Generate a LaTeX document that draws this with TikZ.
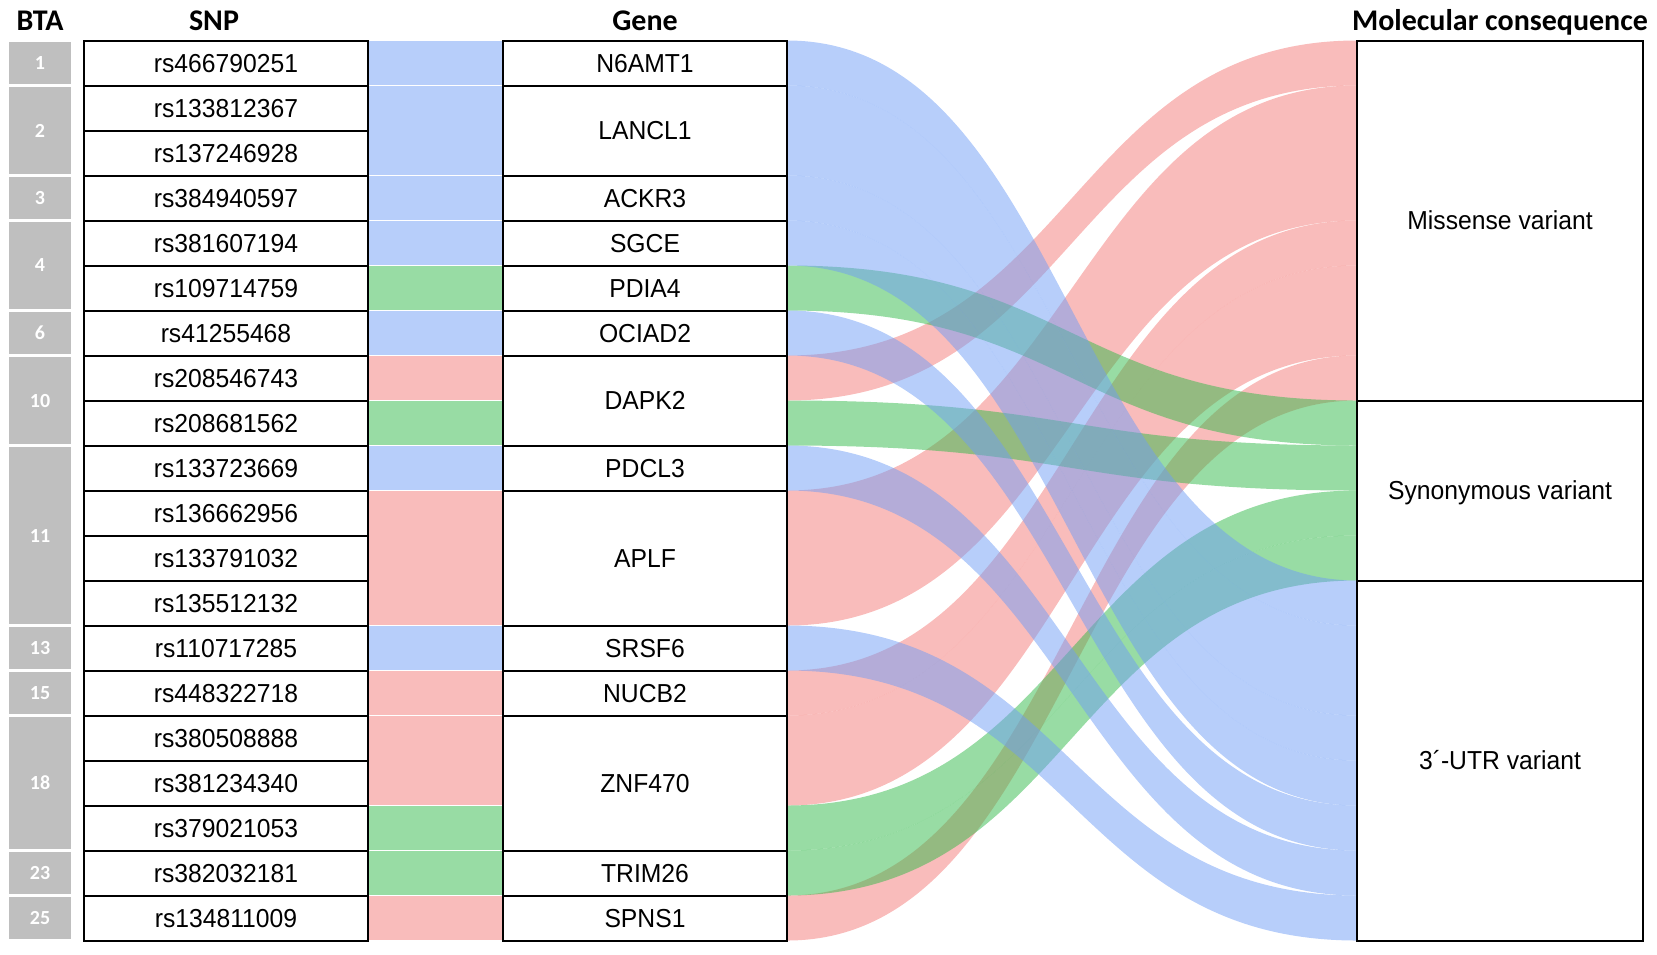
\documentclass[tikz,border=0pt]{standalone}
\usepackage{fontspec}
\setmainfont{Liberation Sans}[FakeStretch=0.95]
\newfontfamily\headfont{Carlito}
\usetikzlibrary{positioning, calc}
\pgfdeclarelayer{background}
\pgfsetlayers{background,main}

\definecolor{misred}{RGB}{243,121,119}
\definecolor{synsgreen}{RGB}{49,185,73}
\definecolor{utrblue}{RGB}{111,157,245}
\definecolor{btagray}{RGB}{191,191,191}

\tikzset{
    snp_box/.style={rectangle, draw=black, line width=1pt, minimum width=142pt, minimum height=22.5pt,
        inner sep=0pt, outer sep=0pt, text centered, text height=9.3pt, text depth=0pt,
        font=\fontsize{13}{15}\selectfont},
    gene_box/.style={snp_box, minimum height=#1*22.5pt},
    gene_box/.default=1,
    cons_box/.style={snp_box, minimum width=143pt, minimum height=#1*22.5pt},
    cons_box/.default=1,
    bta_box/.style={rectangle, fill=btagray, minimum width=31pt, minimum height=#1*22.5pt-1.75pt,
        inner sep=0pt, outer sep=0pt, text=white, font=\headfont\bfseries\fontsize{10}{12}\selectfont},
    bta_box/.default=1,
    head_text/.style={inner sep=0pt, outer sep=0pt, text depth=0pt,
        font=\headfont\bfseries\fontsize{15}{18}\selectfont},
    link/.style={fill=#1, fill opacity=0.5},
}

% band from the gene column to the consequence column
\newcommand{\flowband}[5]{%
    \fill[link=#1] (flow_start |- #2.north)
        .. controls (flow_mid |- #2.north) and (flow_mid |- #4.north) .. (flow_end |- #4.north)
        -- (flow_end |- #5.south)
        .. controls (flow_mid |- #5.south) and (flow_mid |- #3.south) .. (flow_start |- #3.south)
        -- cycle;
}
% block between the SNP column and the gene column
\newcommand{\snplink}[3]{%
    \fill[link=#1, draw=white, draw opacity=1, line width=0.4pt]
        (#2.north east) rectangle (link_end |- #3.south);
}

\begin{document}
\begin{tikzpicture}[node distance=0pt, x=0.5pt, y=-0.5pt]
    \useasboundingbox (0,0) rectangle (1657,954);
    %%%%%%%
    % SNP %
    %%%%%%%
    \node (r1) [snp_box] at (226,63)
        {rs466790251};
    \node (r2) [snp_box, below = of r1]
        {rs133812367};
    \node (r3) [snp_box, below = of r2]
        {rs137246928};
    \node (r4) [snp_box, below = of r3]
        {rs384940597};
    \node (r5) [snp_box, below = of r4]
        {rs381607194};
    \node (r6) [snp_box, below = of r5]
        {rs109714759};
    \node (r7) [snp_box, below = of r6]
        {rs41255468};
    \node (r8) [snp_box, below = of r7]
        {rs208546743};
    \node (r9) [snp_box, below = of r8]
        {rs208681562};
    \node (r10) [snp_box, below = of r9]
        {rs133723669};
    \node (r11) [snp_box, below = of r10]
        {rs136662956};
    \node (r12) [snp_box, below = of r11]
        {rs133791032};
    \node (r13) [snp_box, below = of r12]
        {rs135512132};
    \node (r14) [snp_box, below = of r13]
        {rs110717285};
    \node (r15) [snp_box, below = of r14]
        {rs448322718};
    \node (r16) [snp_box, below = of r15]
        {rs380508888};
    \node (r17) [snp_box, below = of r16]
        {rs381234340};
    \node (r18) [snp_box, below = of r17]
        {rs379021053};
    \node (r19) [snp_box, below = of r18]
        {rs382032181};
    \node (r20) [snp_box, below = of r19]
        {rs134811009};

    %%%%%%%
    % BTA %
    %%%%%%%
    \node (bta1) [bta_box, left = 6.5pt of r1] {1};
    \node (bta2) [bta_box=2, left = 6.5pt of r2.south west] {2};
    \node (bta3) [bta_box, left = 6.5pt of r4] {3};
    \node (bta4) [bta_box=2, left = 6.5pt of r5.south west] {4};
    \node (bta6) [bta_box, left = 6.5pt of r7] {6};
    \node (bta10) [bta_box=2, left = 6.5pt of r8.south west] {10};
    \node (bta11) [bta_box=4, left = 6.5pt of r11.south west] {11};
    \node (bta13) [bta_box, left = 6.5pt of r14] {13};
    \node (bta15) [bta_box, left = 6.5pt of r15] {15};
    \node (bta18) [bta_box=3, left = 6.5pt of r17] {18};
    \node (bta23) [bta_box, left = 6.5pt of r19] {23};
    \node (bta25) [bta_box, left = 6.5pt of r20] {25};

    %%%%%%%%
    % GENE %
    %%%%%%%%
    \node (n6amt1) [gene_box, right = 67.5pt of r1]
        {N6AMT1};
    \node (lancl1) [gene_box=2, below = of n6amt1]
        {LANCL1};
    \node (ackr3) [gene_box, below = of lancl1]
        {ACKR3};
    \node (sgce) [gene_box, below = of ackr3]
        {SGCE};
    \node (pdia4) [gene_box, below = of sgce]
        {PDIA4};
    \node (ociad2) [gene_box, below = of pdia4]
        {OCIAD2};
    \node (dapk2) [gene_box=2, below = of ociad2]
        {DAPK2};
    \node (pdcl3) [gene_box, below = of dapk2]
        {PDCL3};
    \node (aplf) [gene_box=3, below = of pdcl3]
        {APLF};
    \node (srsf6) [gene_box, below = of aplf]
        {SRSF6};
    \node (nucb2) [gene_box, below = of srsf6]
        {NUCB2};
    \node (znf470) [gene_box=3, below = of nucb2]
        {ZNF470};
    \node (trim26) [gene_box, below = of znf470]
        {TRIM26};
    \node (spns1) [gene_box, below = of trim26]
        {SPNS1};

    %%%%%%%%%%%%%%%
    % CONSEQUENCE %
    %%%%%%%%%%%%%%%
    \node (mis) [cons_box=8, right = 285pt of sgce.north east]
        {Missense variant};
    \node (syn) [cons_box=4, below = of mis]
        {Synonymous variant};
    \node (utr) [cons_box=8, below = of syn]
        {3´-UTR variant};

    %%%%%%%%%%
    % HEADER %
    %%%%%%%%%%
    \node (bta_head) [head_text, above = 6pt of bta1] {BTA};
    \node (snp_head) [head_text, above = 5.25pt of r1, xshift=-6pt] {SNP};
    \node (gene_head) [head_text, above = 5.25pt of n6amt1] {Gene};
    \node (cons_head) [head_text, above = 5.25pt of mis] {Molecular consequence};

    \coordinate (link_end) at (n6amt1.west);
    \coordinate (flow_start) at (n6amt1.east);
    \coordinate (flow_end) at (mis.west);
    \coordinate (flow_mid) at ($(flow_start)!0.5!(flow_end)$);

    \begin{pgfonlayer}{background}
        % SNP to gene
        \snplink{utrblue}{r1}{r1}
        \snplink{utrblue}{r2}{r3}
        \snplink{utrblue}{r4}{r4}
        \snplink{utrblue}{r5}{r5}
        \snplink{synsgreen}{r6}{r6}
        \snplink{utrblue}{r7}{r7}
        \snplink{misred}{r8}{r8}
        \snplink{synsgreen}{r9}{r9}
        \snplink{utrblue}{r10}{r10}
        \snplink{misred}{r11}{r13}
        \snplink{utrblue}{r14}{r14}
        \snplink{misred}{r15}{r15}
        \snplink{misred}{r16}{r17}
        \snplink{synsgreen}{r18}{r18}
        \snplink{synsgreen}{r19}{r19}
        \snplink{misred}{r20}{r20}

        % gene to missense
        \flowband{misred}{r8}{r8}{r1}{r1}
        \flowband{misred}{r11}{r13}{r2}{r4}
        \flowband{misred}{r15}{r15}{r5}{r5}
        \flowband{misred}{r16}{r17}{r6}{r7}
        \flowband{misred}{r20}{r20}{r8}{r8}
        % gene to synonymous
        \flowband{synsgreen}{r6}{r6}{r9}{r9}
        \flowband{synsgreen}{r9}{r9}{r10}{r10}
        \flowband{synsgreen}{r18}{r18}{r11}{r11}
        \flowband{synsgreen}{r19}{r19}{r12}{r12}
        % gene to 3'-UTR
        \flowband{utrblue}{r1}{r1}{r13}{r13}
        \flowband{utrblue}{r2}{r3}{r14}{r15}
        \flowband{utrblue}{r4}{r4}{r16}{r16}
        \flowband{utrblue}{r5}{r5}{r17}{r17}
        \flowband{utrblue}{r7}{r7}{r18}{r18}
        \flowband{utrblue}{r10}{r10}{r19}{r19}
        \flowband{utrblue}{r14}{r14}{r20}{r20}
    \end{pgfonlayer}
\end{tikzpicture}
\end{document}
